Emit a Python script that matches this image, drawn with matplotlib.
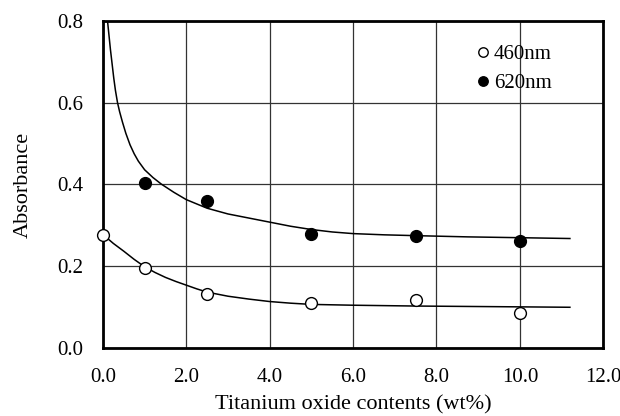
import matplotlib
matplotlib.use("Agg")
import matplotlib.pyplot as plt

# measured points
x_pts = [0, 1, 2.5, 5, 7.5, 10]
abs_460 = [0.276, 0.195, 0.133, 0.111, 0.117, 0.085]
x_pts_620 = [1, 2.5, 5, 7.5, 10]
abs_620 = [0.403, 0.360, 0.278, 0.273, 0.262]

# fitted curves
curve_x_620 = [0.11, 0.14, 0.18, 0.22, 0.26, 0.30, 0.35, 0.40, 0.47, 0.55, 0.65, 0.75, 0.85,
               1.0, 1.2, 1.4, 1.7, 2.0, 2.5, 3.0, 3.5, 4.0, 4.5, 5.0, 5.5, 6.0, 6.75, 7.5,
               8.75, 10.0, 11.2]
curve_y_620 = [0.800, 0.770, 0.730, 0.695, 0.660, 0.630, 0.600, 0.578, 0.552, 0.525, 0.497,
               0.475, 0.457, 0.436, 0.417, 0.401, 0.381, 0.363, 0.342, 0.328, 0.318, 0.308,
               0.298, 0.290, 0.284, 0.280, 0.277, 0.275, 0.272, 0.270, 0.268]
curve_x_460 = [0.02, 0.25, 0.5, 0.75, 1.0, 1.25, 1.5, 1.75, 2.0, 2.25, 2.5, 3.0, 3.5, 4.0,
               4.5, 5.0, 6.0, 7.5, 10.0, 11.2]
curve_y_460 = [0.276, 0.256, 0.237, 0.217, 0.199, 0.185, 0.173, 0.163, 0.154, 0.145, 0.137,
               0.127, 0.120, 0.114, 0.110, 0.107, 0.105, 0.103, 0.101, 0.100]

x_ticks = [0, 2, 4, 6, 8, 10, 12]
x_labels = ["0.0", "2.0", "4.0", "6.0", "8.0", "10.0", "12.0"]
y_ticks = [0, 0.2, 0.4, 0.6, 0.8]
y_labels = ["0.0", "0.2", "0.4", "0.6", "0.8"]

plt.rcParams['font.family'] = ['Liberation Serif', 'DejaVu Serif']

fig = plt.figure(figsize=(6.2, 4.16), dpi=100)
ax = fig.add_axes([0.166, 0.163, 0.807, 0.787])

ax.plot(curve_x_620, curve_y_620, color='black', lw=1.1, zorder=3)
ax.plot(curve_x_460, curve_y_460, color='black', lw=1.1, zorder=3)
ax.plot(x_pts, abs_460, linestyle='none', marker='o', markersize=8.5,
        markerfacecolor='white', markeredgecolor='black', markeredgewidth=1.0,
        label='460nm', zorder=4, clip_on=False)
ax.plot(x_pts_620, abs_620, linestyle='none', marker='o', markersize=8.5,
        markerfacecolor='black', markeredgecolor='black',
        label='620nm', zorder=4, clip_on=False)

ax.set_xlim(0, 12)
ax.set_ylim(0, 0.8)
ax.set_xticks(x_ticks)
ax.set_xticklabels(x_labels)
ax.set_yticks(y_ticks)
ax.set_yticklabels(y_labels)
ax.tick_params(axis='both', length=0, labelsize=15)
ax.tick_params(axis='x', pad=14)
ax.tick_params(axis='y', pad=14)
ax.grid(True, color='#333333', lw=0.9)
ax.set_axisbelow(True)
for s in ax.spines.values():
    s.set_linewidth(2.0)

ax.set_xlabel('Titanium oxide contents (wt%)', fontsize=16, labelpad=6)
ax.set_ylabel('Absorbance', fontsize=16, labelpad=18)

leg = ax.legend(loc='upper right', bbox_to_anchor=(0.935, 0.985), frameon=False,
                fontsize=15, handletextpad=0.05, markerscale=0.8,
                labelspacing=0.45, handlelength=1.0)

fig.savefig('out.png', dpi=100)
